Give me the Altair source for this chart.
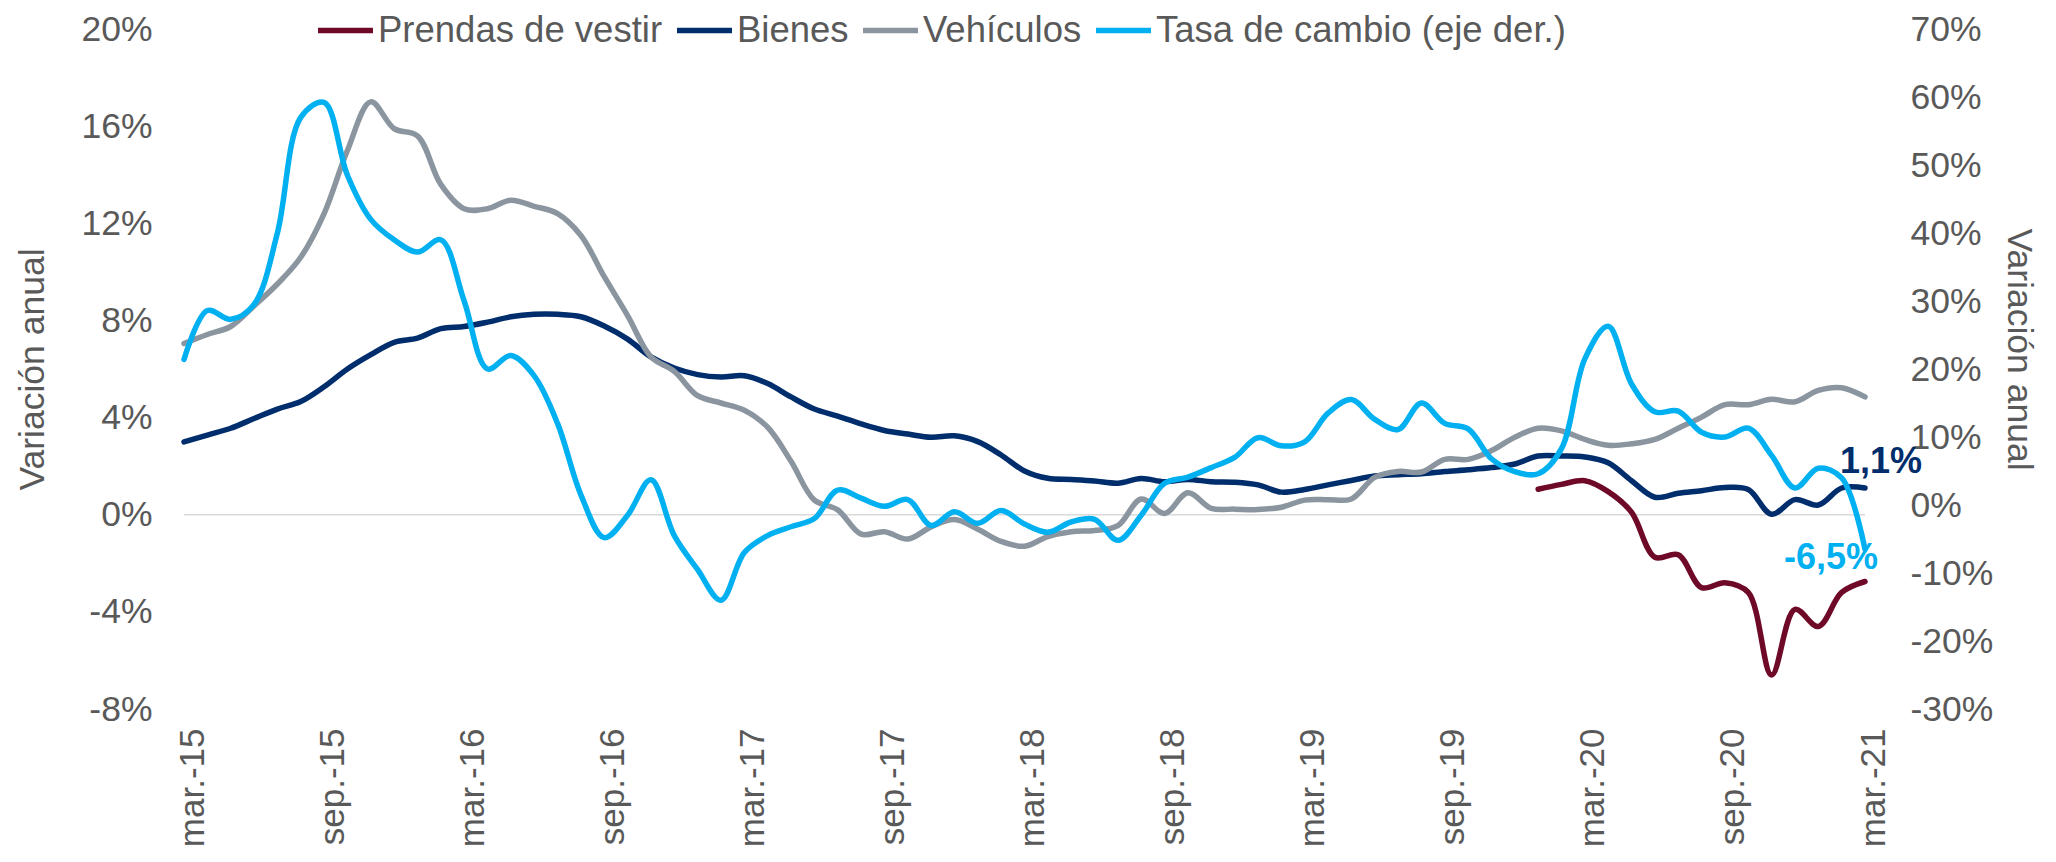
import json
import altair as alt
import pandas as pd

# ---------------- data ----------------
fechas = pd.date_range("2015-03-01", "2021-03-01", freq="MS")
mes_idx = list(range(len(fechas)))  # 0 = mar-15 ... 72 = mar-21

tick_pos = [0, 6, 12, 18, 24, 30, 36, 42, 48, 54, 60, 66, 72]
tick_labels = ["mar.-15", "sep.-15", "mar.-16", "sep.-16", "mar.-17", "sep.-17",
               "mar.-18", "sep.-18", "mar.-19", "sep.-19", "mar.-20", "sep.-20", "mar.-21"]

left_ticks = [-8, -4, 0, 4, 8, 12, 16, 20]
right_ticks = [-30, -20, -10, 0, 10, 20, 30, 40, 50, 60, 70]

bienes = [3.00, 3.28, 3.56, 3.96, 4.35, 4.66, 5.27, 6.00, 6.59, 7.10,
          7.27, 7.66, 7.75, 7.93, 8.15, 8.25, 8.25, 8.15, 7.77, 7.23,
          6.50, 6.04, 5.77, 5.67, 5.72, 5.40, 4.85, 4.35, 4.06, 3.74,
          3.47, 3.32, 3.19, 3.25, 3.01, 2.46, 1.80, 1.50, 1.45, 1.39,
          1.30, 1.49, 1.36, 1.45, 1.36, 1.34, 1.23, 0.93, 1.04, 1.23,
          1.41, 1.60, 1.65, 1.69, 1.78, 1.85, 1.94, 2.09, 2.42, 2.42,
          2.38, 2.14, 1.40, 0.72, 0.88, 0.99, 1.12, 1.04, 0.02, 0.62,
          0.40, 1.10, 1.10]

vehiculos = [7.05, 7.42, 7.75, 8.60, 9.50, 10.60, 12.40, 15.00, 17.00, 15.90,
             15.60, 13.60, 12.60, 12.60, 12.95, 12.70, 12.40, 11.50, 9.80, 8.20,
             6.50, 5.90, 4.90, 4.60, 4.30, 3.60, 2.20, 0.60, 0.20, -0.80,
             -0.70, -1.00, -0.50, -0.20, -0.60, -1.10, -1.30, -0.90, -0.70, -0.65,
             -0.45, 0.65, 0.05, 0.90, 0.26, 0.23, 0.21, 0.31, 0.60, 0.62,
             0.65, 1.54, 1.78, 1.76, 2.28, 2.28, 2.64, 3.19, 3.56, 3.45,
             3.10, 2.86, 2.92, 3.10, 3.56, 4.02, 4.53, 4.53, 4.75, 4.65,
             5.12, 5.23, 4.85]

tasa = [21.4, 28.6, 27.3, 29.5, 40.0, 57.0, 59.2, 48.5, 42.0, 39.0,
        37.2, 39.0, 30.0, 20.0, 22.0, 19.0, 12.0, 1.5, -4.8, -1.5,
        3.7, -4.5, -9.5, -14.0, -7.0, -4.5, -3.2, -2.0, 2.2, 1.0,
        -0.2, 0.8, -3.0, -1.0, -2.7, -0.8, -2.8, -4.0, -2.5, -2.1,
        -5.2, -1.5, 3.2, 4.1, 5.5, 7.0, 9.9, 8.7, 9.3, 13.5,
        15.5, 12.6, 11.1, 15.0, 12.0, 11.2, 6.8, 4.9, 4.6, 8.3,
        21.5, 26.3, 17.8, 13.7, 13.8, 10.7, 10.0, 11.3, 7.3, 2.5,
        5.4, 4.0, -6.5]

prendas = [None] * 58 + [1.05, 1.25, 1.40, 0.95, 0.10, -1.75, -1.65, -3.00, -2.80, -3.20,
                         -6.60, -3.90, -4.60, -3.20, -2.75]

series_names = ["Prendas de vestir", "Bienes", "Vehículos", "Tasa de cambio (eje der.)"]
series_colors = ["#6E0A28", "#002D6C", "#8A959F", "#00B0F0"]
series_values = [prendas, bienes, vehiculos, tasa]

rows = []
for name, vals in zip(series_names, series_values):
    for i, v in zip(mes_idx, vals):
        if v is not None:
            rows.append({"mes": i, "serie": name, "valor": v})
df = pd.DataFrame(rows)

ann_left = pd.DataFrame({"mes": [mes_idx[-1]], "valor": [bienes[-1]],
                         "texto": [f"{bienes[-1]:.1f}".replace(".", ",") + "%"]})
ann_right = pd.DataFrame({"mes": [mes_idx[-1]], "valor": [tasa[-1]],
                          "texto": [f"{tasa[-1]:.1f}".replace(".", ",") + "%"]})
zero_df = pd.DataFrame({"valor": [0]})

# ---------------- styling ----------------
FONT = "Liberation Sans"
GREY = "#595959"
FS = 35.5

color_scale = alt.Scale(domain=series_names, range=series_colors)
legend = alt.Legend(orient="none", legendX=131, legendY=-29, direction="horizontal",
                    columns=4, title=None, symbolType="stroke", symbolStrokeWidth=5.5,
                    symbolSize=3025, labelFont=FONT, labelFontSize=36.5, labelColor=GREY,
                    labelOffset=2, columnPadding=3, padding=0, labelLimit=700)

x_enc = alt.X("mes:Q",
              scale=alt.Scale(domain=[0, 72], nice=False, zero=False),
              axis=alt.Axis(values=tick_pos,
                            labelExpr=json.dumps(tick_labels) + "[round(datum.value/6)]",
                            labelAngle=-90, labelPadding=19, labelOffset=8,
                            labelFontSize=35, title=None))

y_axis_left = alt.Axis(values=left_ticks, labelExpr="datum.value + '%'",
                       title="Variación anual", titlePadding=30, labelPadding=32)
y_scale_left = alt.Scale(domain=[-8, 20], nice=False, zero=False)
y_left = alt.Y("valor:Q", scale=y_scale_left, axis=y_axis_left)

y_right = alt.Y("valor:Q",
                scale=alt.Scale(domain=[-30, 70], nice=False, zero=False),
                axis=alt.Axis(orient="right", values=right_ticks,
                              labelExpr="datum.value + '%'",
                              title="Variación anual", titlePadding=8, labelPadding=45,
                              titleY=320))

color_enc = alt.Color("serie:N", scale=color_scale, legend=legend)


def serie_line(name, y_enc):
    return (alt.Chart(df)
            .transform_filter(alt.datum.serie == name)
            .mark_line(strokeWidth=5.5, interpolate="catmull-rom", strokeCap="round")
            .encode(x=x_enc, y=y_enc, color=color_enc))


zero_rule = (alt.Chart(zero_df).mark_rule(color="#D9D9D9", strokeWidth=1.5)
             .encode(y=y_left))

text_left = (alt.Chart(ann_left)
             .mark_text(font=FONT, fontSize=36, fontWeight="bold", color=series_colors[1],
                        dx=16, dy=-26)
             .encode(x=x_enc, y=y_left, text="texto:N"))

text_right = (alt.Chart(ann_right)
              .mark_text(font=FONT, fontSize=36, fontWeight="bold", color=series_colors[3],
                         dx=-34, dy=9)
              .encode(x=x_enc, y=y_right, text="texto:N"))

left_layer = alt.layer(
    zero_rule,
    serie_line(series_names[0], y_left),
    serie_line(series_names[1], y_left),
    serie_line(series_names[2], y_left),
    text_left,
)

right_layer = alt.layer(
    serie_line(series_names[3], y_right),
    text_right,
)

chart = (alt.layer(left_layer, right_layer)
         .resolve_scale(y="independent")
         .properties(width=1681, height=680,
                     autosize=alt.AutoSizeParams(type="none"),
                     padding={"left": 176, "top": 21, "right": 175, "bottom": 142})
         .configure_view(stroke=None)
         .configure_axis(domain=False, ticks=False, grid=False,
                         labelFont=FONT, labelFontSize=FS, labelColor=GREY,
                         titleFont=FONT, titleFontSize=FS, titleColor=GREY,
                         titleFontWeight="normal"))

chart.save("out.html", embed_options={"renderer": "svg", "actions": False})
